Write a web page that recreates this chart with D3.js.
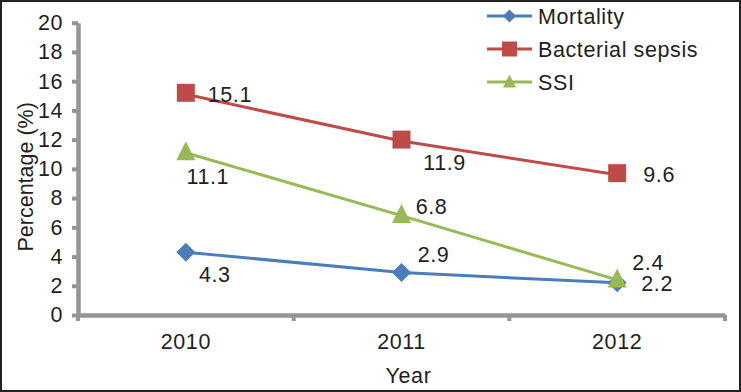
<!DOCTYPE html>
<html>
<head>
<meta charset="utf-8">
<script src="https://cdn.jsdelivr.net/npm/d3@7"></script>
<style>
    body { margin: 0; background: #fff; }
    text { font-family: "Liberation Sans", Arial, sans-serif; fill: #231f20; letter-spacing: 0.6px; }
</style>
</head>
<body>
<svg id="chart"></svg>
<script>
// data
var years = ["2010", "2011", "2012"];
var seriesNames = ["Mortality", "Bacterial sepsis", "SSI"];
var mortality = [4.3, 2.9, 2.2];
var sepsis = [15.1, 11.9, 9.6];
var ssi = [11.1, 6.8, 2.4];
var yTicks = [0, 2, 4, 6, 8, 10, 12, 14, 16, 18, 20];

// label offsets from each point (dx, dy of label centre)
var labelOffsets = {
    "Mortality": [[29, 22], [32, -18], [40, 0]],
    "Bacterial sepsis": [[44, 0], [43, 21], [42, 0]],
    "SSI": [[22, 23], [30, -9], [31, -18]]
};

var width = 741, height = 392;
var colors = {"Mortality": "#4a7ebb", "Bacterial sepsis": "#be4b48", "SSI": "#98b954"};

// marker shapes, r = half width
function markerPath(name, r) {
    if (name === "Mortality") {
        return "M0," + (-r) + "L" + r + ",0L0," + r + "L" + (-r) + ",0Z";
    }
    if (name === "SSI") {
        return "M0," + (-r) + "L" + r + "," + r + "L" + (-r) + "," + r + "Z";
    }
    return "M" + (-r) + "," + (-r) + "H" + r + "V" + r + "H" + (-r) + "Z";
}

var series = [
    {name: seriesNames[0], values: mortality},
    {name: seriesNames[1], values: sepsis},
    {name: seriesNames[2], values: ssi}
];

var svg = d3.select("#chart")
    .attr("width", width)
    .attr("height", height);

svg.append("rect")
    .attr("x", 1).attr("y", 1)
    .attr("width", width - 2).attr("height", height - 2)
    .style("fill", "#fff")
    .style("stroke", "#222")
    .style("stroke-width", 2);

var x = d3.scaleBand().domain(years).range([78, 725]);
var y = d3.scaleLinear().domain([0, 20]).range([315, 22.7]);

var axisColor = "#959595";
var fontSize = "21.5px";

// y axis
var yAxis = svg.append("g")
    .attr("transform", "translate(78,0)")
    .call(d3.axisLeft(y).tickValues(yTicks).tickSize(6).tickPadding(9).tickSizeOuter(0));
yAxis.select(".domain").style("stroke", axisColor).style("stroke-width", 4.5);
yAxis.selectAll(".tick line").style("stroke", axisColor).style("stroke-width", 4);
yAxis.selectAll(".tick text").style("font-size", fontSize).style("fill", "#231f20");

// x axis: labels centred in bands, ticks on band edges
var xAxis = svg.append("g")
    .attr("transform", "translate(0,315)")
    .call(d3.axisBottom(x).tickSize(0).tickPadding(19).tickSizeOuter(0));
xAxis.select(".domain").style("stroke", axisColor).style("stroke-width", 4.5);
xAxis.selectAll(".tick text").style("font-size", fontSize).style("fill", "#231f20");

var edges = years.map(function (d) { return x(d); }).concat([x.range()[1]]);
xAxis.selectAll(".edge")
    .data(edges)
    .enter().append("line")
    .attr("class", "edge")
    .attr("x1", function (d) { return d; })
    .attr("x2", function (d) { return d; })
    .attr("y1", 0)
    .attr("y2", 6)
    .style("stroke", axisColor)
    .style("stroke-width", 4);

// axis titles
svg.append("text")
    .attr("transform", "translate(33," + ((y(0) + y(20)) / 2 + 8) + ") rotate(-90)")
    .style("text-anchor", "middle")
    .style("font-size", fontSize)
    .style("letter-spacing", "0px")
    .text("Percentage (%)");

svg.append("text")
    .attr("x", x.range()[0] + (x.range()[1] - x.range()[0]) / 2 + 7)
    .attr("y", 383)
    .style("text-anchor", "middle")
    .style("font-size", fontSize)
    .text("Year");

var line = d3.line()
    .x(function (d, i) { return x(years[i]) + x.bandwidth() / 2; })
    .y(function (d) { return y(d); });

var groups = svg.selectAll(".series")
    .data(series)
    .enter().append("g")
    .attr("class", "series");

groups.append("path")
    .attr("d", function (d) { return line(d.values); })
    .style("fill", "none")
    .style("stroke", function (d) { return colors[d.name]; })
    .style("stroke-width", 3);

groups.each(function (s) {
    var g = d3.select(this);
    var r = s.name === "Bacterial sepsis" ? 9 : 9.5;
    g.selectAll(".marker")
        .data(s.values)
        .enter().append("path")
        .attr("class", "marker")
        .attr("d", markerPath(s.name, r))
        .attr("transform", function (d, i) {
            var px = x(years[i]) + x.bandwidth() / 2;
            var py = y(d);
            if (s.name === "Bacterial sepsis") py -= 1.5;
            if (s.name === "SSI") py -= 2;
            return "translate(" + px + "," + py + ")";
        })
        .style("fill", colors[s.name]);

    g.selectAll(".label")
        .data(s.values)
        .enter().append("text")
        .attr("class", "label")
        .attr("x", function (d, i) { return x(years[i]) + x.bandwidth() / 2 + labelOffsets[s.name][i][0]; })
        .attr("y", function (d, i) { return y(d) + labelOffsets[s.name][i][1]; })
        .attr("dy", "0.36em")
        .style("text-anchor", "middle")
        .style("font-size", fontSize)
        .text(function (d) { return d.toFixed(1); });
});

// legend
var legend = svg.selectAll(".legend")
    .data(series)
    .enter().append("g")
    .attr("class", "legend")
    .attr("transform", function (d, i) { return "translate(487," + (16 + i * 33) + ")"; });

legend.append("line")
    .attr("x1", 0).attr("x2", 45)
    .style("stroke", function (d) { return colors[d.name]; })
    .style("stroke-width", 3);

legend.append("path")
    .attr("transform", function (d) { return "translate(22.5," + (d.name === "SSI" ? -1 : 0) + ")"; })
    .attr("d", function (d) { return markerPath(d.name, d.name === "Bacterial sepsis" ? 7.5 : 6.5); })
    .style("fill", function (d) { return colors[d.name]; });

legend.append("text")
    .attr("x", 51)
    .attr("dy", "0.36em")
    .style("font-size", fontSize)
    .text(function (d) { return d.name; });
</script>
</body>
</html>
